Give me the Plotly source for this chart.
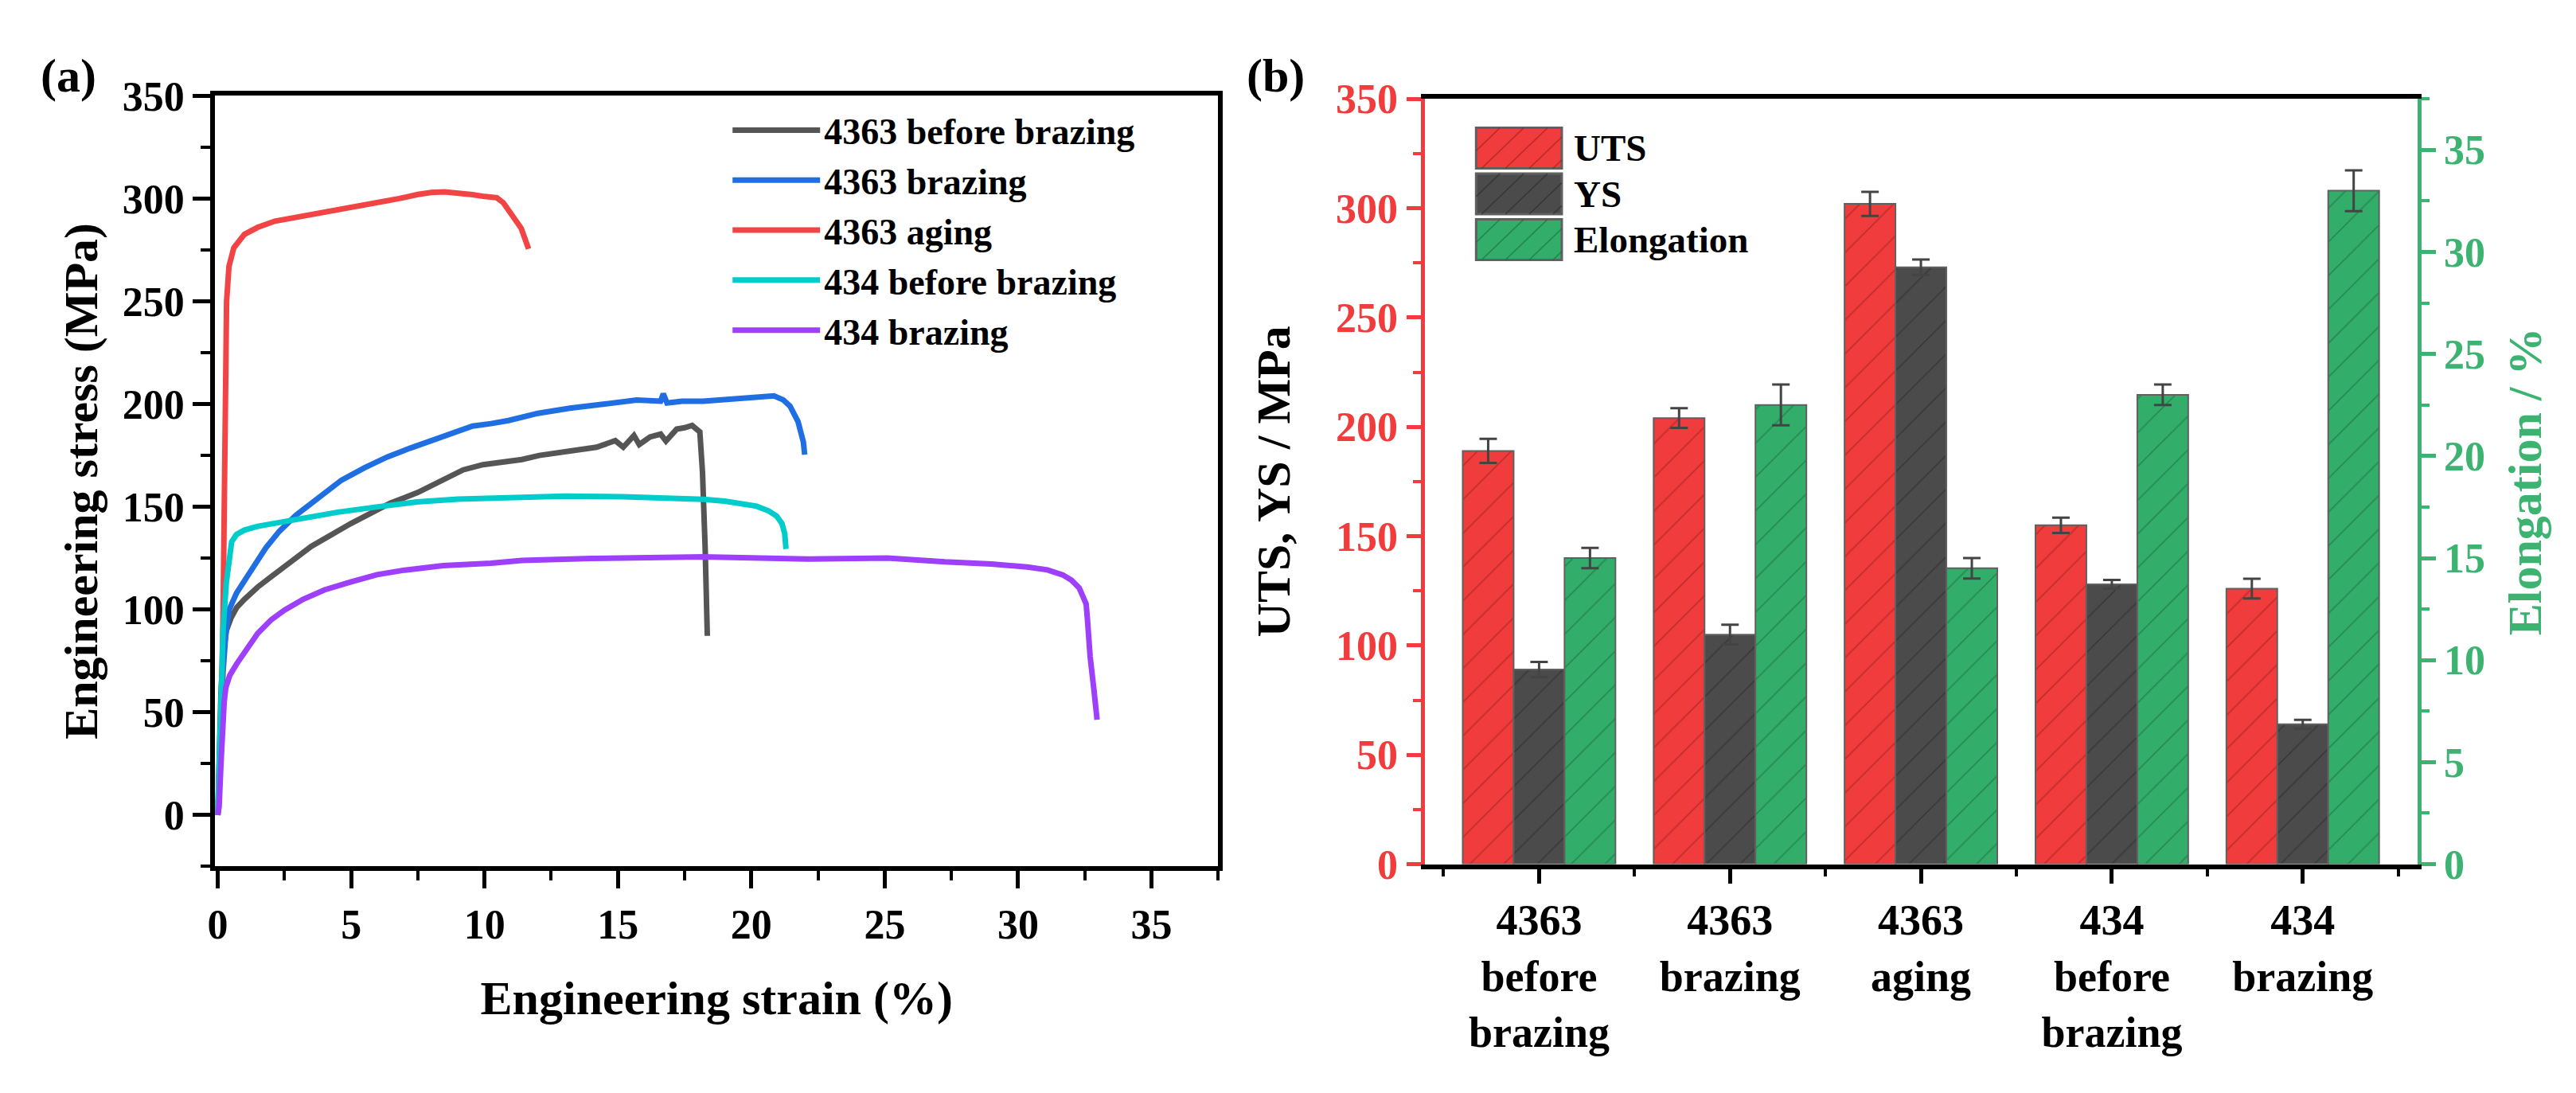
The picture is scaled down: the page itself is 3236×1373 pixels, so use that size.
import plotly.graph_objects as go

# ---------------- Panel (a): engineering stress-strain curves ----------------
names_a = ["4363 before brazing", "4363 brazing", "4363 aging",
           "434 before brazing", "434 brazing"]

strain_4363_before = [0, 0.05, 0.12, 0.2, 0.32, 0.5, 0.71, 1.0, 1.5, 2.0, 2.5, 3.5, 4.98, 6.47,
                      7.5, 8.45, 9.2, 9.94, 11.4, 12.05, 13.0, 14.2, 14.9, 15.2, 15.6, 15.8,
                      16.2, 16.6, 16.8, 17.2, 17.5, 17.78, 18.07, 18.17, 18.27, 18.35]
stress_4363_before = [0, 30, 60, 78, 89.7, 96, 101, 105, 111, 116, 120.7, 130.7, 141.8, 151.8,
                      157, 163, 168, 170.5, 173, 175, 176.5, 179, 182.2, 179, 184.7, 180.3,
                      184, 185.4, 182, 187.8, 188.5, 189.6, 186.5, 166.7, 129.5, 87.2]

strain_4363_brazing = [0, 0.1, 0.2, 0.3, 0.43, 0.7, 1.0, 1.4, 1.8, 2.3, 2.94, 3.8, 4.64, 5.5,
                       6.36, 7.2, 7.95, 8.8, 9.55, 10.24, 10.9, 12.0, 13.2, 14.5, 15.7, 16.6,
                       16.7, 16.84, 17.4, 18.2, 19.2, 20.2, 20.85, 21.2, 21.45, 21.75, 21.95, 22.0]
stress_4363_brazing = [0, 40, 70, 88, 100, 108, 114.5, 122, 130, 138, 146, 155, 163, 169,
                       174.3, 178.5, 182, 186, 189.3, 190.5, 192, 195.5, 198, 200, 202, 201.4,
                       205, 200.5, 201.4, 201.4, 202.5, 203.3, 204, 202, 199, 191.5, 181.6, 175.4]

strain_4363_aging = [0, 0.12, 0.2, 0.25, 0.28, 0.33, 0.42, 0.6, 1.0, 1.5, 2.14, 3.0, 4.08, 5.0,
                     5.9, 6.8, 7.5, 8.0, 8.5, 9.0, 9.55, 10.0, 10.46, 10.7, 10.9, 11.15, 11.37,
                     11.5, 11.65]
stress_4363_aging = [0, 40, 100, 170, 217, 250, 267, 276, 282.6, 286, 289, 291, 293, 295.5,
                     297.6, 300, 302, 303, 303.3, 302.8, 301.9, 301, 300.4, 298, 294, 290, 285.6,
                     281, 275.5]

strain_434_before = [0, 0.06, 0.12, 0.2, 0.32, 0.42, 0.52, 0.7, 1.0, 1.5, 2.5, 3.5, 4.5, 6.0,
                     7.46, 9.0, 11.4, 13.0, 15.2, 17.0, 18.2, 19.0, 19.66, 20.2, 20.65, 20.95,
                     21.15, 21.25, 21.3]
stress_434_before = [0, 25, 60, 90, 113, 126, 133, 136.5, 138.7, 140.5, 143, 145.3, 147.4, 150,
                     152.4, 153.7, 154.9, 155.2, 154.9, 154.3, 153.6, 152.8, 151.8, 150.3, 148,
                     145.5, 141.8, 137, 129.5]

strain_434_brazing = [0, 0.05, 0.12, 0.17, 0.24, 0.3, 0.45, 0.71, 1.0, 1.5, 2.0, 2.5, 3.2, 4.0,
                      5.0, 5.97, 7.0, 8.45, 10.24, 11.4, 14.0, 18.2, 22.1, 25.1, 27.26, 29.0,
                      30.34, 31.1, 31.67, 32.0, 32.29, 32.45, 32.55, 32.6, 32.7, 32.85, 32.96]
stress_434_brazing = [0, 4, 25, 40, 55, 62, 68, 73.6, 79, 88.5, 95, 99.7, 105, 109.6,
                      113.5, 117, 119.2, 121.4, 122.6, 123.9, 124.9, 125.7, 124.6, 125.1, 123.2,
                      122.2, 120.7, 119.3, 116.9, 114.3, 110.5, 106.5, 102.8, 95, 77.1, 60, 46.4]

strains_a = [strain_4363_before, strain_4363_brazing, strain_4363_aging,
             strain_434_before, strain_434_brazing]
stresses_a = [stress_4363_before, stress_4363_brazing, stress_4363_aging,
              stress_434_before, stress_434_brazing]

# ---------------- Panel (b): UTS / YS / elongation bars ----------------
categories_b = ["4363<br>before<br>brazing", "4363<br>brazing", "4363<br>aging",
                "434<br>before<br>brazing", "434<br>brazing"]
uts = [189, 204, 302, 155, 126]
uts_err = [5.5, 4.5, 5.5, 3.5, 4.5]
ys = [89, 105, 273, 128, 64]
ys_err = [3.5, 4.5, 3.5, 2.0, 2.0]
elongation = [15.0, 22.5, 14.5, 23.0, 33.0]
elongation_err = [0.5, 1.0, 0.5, 0.5, 1.0]
bar_series_names = ["UTS", "YS", "Elongation"]

# ---------------- styling ----------------
W, H = 3236, 1373
FONT = "Liberation Serif"
line_colors = ["#555555", "#1F6FE3", "#F24444", "#00CCCC", "#9D3FFB"]
RED = "#F03C3C"
GRAY = "#4B4B4B"
GREEN = "#32AE6A"
GREEN_AX = "#3CB371"
bar_colors = [RED, GRAY, GREEN]
hatch_colors = ["#9E1E1E", "#2A2A2A", "#1B6B40"]


def f(size, color="black"):
    return dict(family=FONT, size=size, color=color, weight=700)


fig = go.Figure()

for name, xs, ys_, col in zip(names_a, strains_a, stresses_a, line_colors):
    fig.add_trace(go.Scatter(x=xs, y=ys_, mode="lines", name=name,
                             line=dict(color=col, width=7),
                             xaxis="x", yaxis="y", legend="legend"))

xpos = list(range(len(categories_b)))
bw = 0.8 / 3
bar_values = [uts, ys, elongation]
bar_errors = [uts_err, ys_err, elongation_err]
bar_axes = ["y2", "y2", "y3"]
for i, (nm, vals, errs, ax) in enumerate(zip(bar_series_names, bar_values, bar_errors, bar_axes)):
    fig.add_trace(go.Bar(
        x=xpos, y=vals, name=nm, width=bw, offset=-0.4 + i * bw,
        marker=dict(color=bar_colors[i], line=dict(color="#606060", width=2),
                    pattern=dict(shape="/", fgcolor=hatch_colors[i], fgopacity=0.55,
                                 size=30, solidity=0.06)),
        error_y=dict(type="data", array=errs, color="#444444", thickness=3, width=11),
        xaxis="x2", yaxis=ax, showlegend=False))

# custom legend for panel (b) (large hatched swatches like the original)
shapes = []
annotations = []
sw_x0, sw_x1 = 1842, 1950
sw_tops = [130, 190, 250]
sw_h = 53
for i, nm in enumerate(bar_series_names):
    top = sw_tops[i]
    bot = top + sw_h
    shapes.append(dict(type="rect", xref="paper", yref="paper",
                       x0=sw_x0 / W, x1=sw_x1 / W, y0=1 - bot / H, y1=1 - top / H,
                       fillcolor=bar_colors[i], line=dict(color="#606060", width=3)))
    # hatch lines "/"
    segs = []
    c = sw_x0 - sw_h
    while c < sw_x1:
        t0 = max(0, sw_x0 - c)
        t1 = min(sw_h, sw_x1 - c)
        if t1 > t0:
            xa, ya = c + t0, bot - t0
            xb, yb = c + t1, bot - t1
            segs.append(f"M{xa / W:.5f},{1 - ya / H:.5f}L{xb / W:.5f},{1 - yb / H:.5f}")
        c += 30
    shapes.append(dict(type="path", xref="paper", yref="paper", path="".join(segs),
                       line=dict(color=hatch_colors[i], width=1.5), opacity=0.6))
    annotations.append(dict(text=nm, xref="paper", yref="paper", x=1963 / W,
                            y=1 - (top + sw_h / 2) / H, xanchor="left", yanchor="middle",
                            showarrow=False, font=f(47)))

annotations.append(dict(text="(a)", xref="paper", yref="paper", x=68 / W, y=1 - 62 / H,
                        xanchor="center", yanchor="middle", showarrow=False, font=f(60)))
annotations.append(dict(text="(b)", xref="paper", yref="paper", x=1589 / W, y=1 - 62 / H,
                        xanchor="center", yanchor="middle", showarrow=False, font=f(60)))

common_tick = dict(ticks="outside", tickwidth=5, showgrid=False, zeroline=False,
                   showline=True)

fig.update_layout(
    width=W, height=H, margin=dict(l=0, r=0, t=0, b=0),
    paper_bgcolor="white", plot_bgcolor="white",
    font=f(52),
    xaxis=dict(domain=[253 / W, 1517 / W], range=[-0.1, 37.5], anchor="y",
               tick0=0, dtick=5, ticklen=22, tickcolor="black",
               minor=dict(dtick=2.5, tick0=0, ticks="outside", ticklen=12, tickwidth=4,
                          tickcolor="black"),
               linewidth=6, linecolor="black", mirror=True, tickfont=f(52),
               title=dict(text="Engineering strain (%)", font=f(60), standoff=45),
               **common_tick),
    yaxis=dict(domain=[1 - 1098 / H, 1 - 88 / H], range=[-25, 350], anchor="x",
               tick0=0, dtick=50, ticklen=22, tickcolor="black",
               minor=dict(dtick=25, tick0=0, ticks="outside", ticklen=12, tickwidth=4,
                          tickcolor="black"),
               linewidth=6, linecolor="black", mirror=True, tickfont=f(52),
               title=dict(text="Engineering stress (MPa)", font=f(60), standoff=14),
               **common_tick),
    xaxis2=dict(domain=[1777 / W, 3028 / W], range=[-0.6, 4.6], anchor="y2",
                tickmode="array", tickvals=xpos, ticktext=categories_b,
                ticklen=18, tickcolor="black",
                minor=dict(tickmode="array", tickvals=[p - 0.5 for p in xpos] + [xpos[-1] + 0.5],
                           ticks="outside", ticklen=9, tickwidth=4, tickcolor="black"),
                linewidth=6, linecolor="black", mirror=True, tickfont=f(54),
                **common_tick),
    yaxis2=dict(domain=[1 - 1095 / H, 1 - 92 / H], range=[0, 350], anchor="x2", side="left",
                tick0=0, dtick=50, ticklen=18, tickcolor=RED,
                minor=dict(dtick=25, tick0=0, ticks="outside", ticklen=10, tickwidth=4,
                           tickcolor=RED),
                linewidth=5, linecolor=RED, tickfont=f(52, RED),
                title=dict(text="UTS, YS / MPa", font=f(60), standoff=40),
                **common_tick),
    yaxis3=dict(range=[0, 37.5], anchor="x2", overlaying="y2", side="right",
                tick0=0, dtick=5, ticklen=18, tickcolor=GREEN_AX,
                minor=dict(dtick=2.5, tick0=0, ticks="outside", ticklen=10, tickwidth=4,
                           tickcolor=GREEN_AX),
                linewidth=5, linecolor=GREEN_AX, tickfont=f(52, GREEN_AX),
                title=dict(text="Elongation / %", font=f(60, GREEN_AX), standoff=30),
                **common_tick),
    legend=dict(x=900 / W, y=1 - 95 / H, xanchor="left", yanchor="top",
                font=f(46), bgcolor="rgba(0,0,0,0)", borderwidth=0,
                itemwidth=110, tracegroupgap=0),
    barmode="overlay",
    shapes=shapes,
    annotations=annotations,
)

fig.write_html("out.html")
